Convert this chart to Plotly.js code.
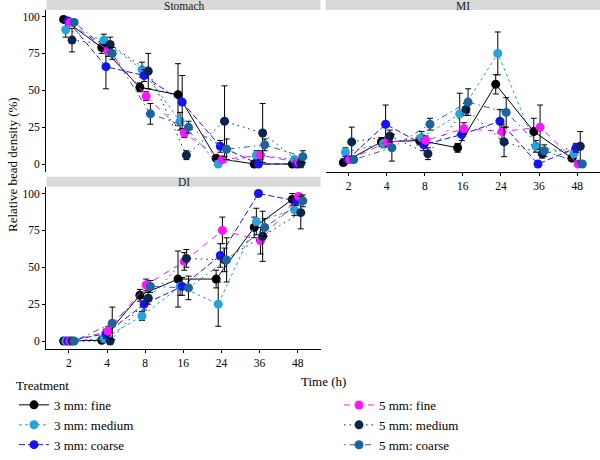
<!DOCTYPE html>
<html>
<head>
<meta charset="utf-8">
<script src="https://cdn.plot.ly/plotly-3.0.1.min.js"></script>
<style>html,body{margin:0;padding:0;background:#fff;overflow:hidden}#chart{width:600px;height:460px}</style>
</head>
<body>
<div id="chart"></div>
<script>
// ---- data ----
const timeLabels = ['2', '4', '8', '16', '24', '36', '48'];
const treatments = ['3 mm: fine', '3 mm: medium', '3 mm: coarse', '5 mm: fine', '5 mm: medium', '5 mm: coarse'];
const panels = ['Stomach', 'MI', 'DI'];

// Stomach
const stomach3Fine   = [98, 79, 52, 47, 4, 0, 0];
const stomach3Medium = [91, 84, 64, 29, 0, 6, 3];
const stomach3Coarse = [97, 66, 60, 42, 12, 0, 0];
const stomach5Fine   = [96, 77, 46, 21, 3, 6, 1];
const stomach5Medium = [84, 81, 63, 6, 29, 21, 0.5];
const stomach5Coarse = [96, 75, 34, 25, 10, 13, 5];
const stomach3FineErr   = [1, 4, 3, 21, 2, 0, 0];
const stomach3MediumErr = [5, 4, 5, 6, 1, 3, 2];
const stomach3CoarseErr = [2, 15, 4, 18, 4, 0, 0];
const stomach5FineErr   = [2, 4, 3, 3, 2, 3, 1];
const stomach5MediumErr = [8, 5, 12, 3, 24, 20, 3];
const stomach5CoarseErr = [2, 4, 7, 4, 7, 4, 4];

// MI
const mi3Fine   = [1, 15, 16, 11, 54, 22, 4];
const mi3Medium = [8, 14, 18, 34, 75, 12, 7];
const mi3Coarse = [3, 27, 13, 20, 29, 0, 11];
const mi5Fine   = [3, 15, 16, 24, 22, 25, 0];
const mi5Medium = [15, 19, 7, 37, 15, 7, 12];
const mi5Coarse = [3, 11, 27, 42, 35, 9, 0];
const mi3FineErr   = [1, 3, 3, 3, 6.5, 9, 2];
const mi3MediumErr = [3, 3, 4, 14, 14.5, 4, 3];
const mi3CoarseErr = [2, 13, 4, 4, 8, 2, 3];
const mi5FineErr   = [2, 3, 3, 4, 5, 15, 1];
const mi5MediumErr = [10, 4, 4, 4, 10, 3, 10];
const mi5CoarseErr = [2, 9, 4, 9, 10, 4, 1];

// DI
const di3Fine   = [0, 0.5, 31, 42, 42, 77, 96];
const di3Medium = [0, 1.6, 17, 37, 25, 81, 89];
const di3Coarse = [0, 5, 25, 37, 58, 100, 95];
const di5Fine   = [0, 6.6, 38, 54, 75, 68, 98];
const di5Medium = [0, 0, 29, 56, 55, 71, 87];
const di5Coarse = [0, 12, 37, 36, 55, 77, 95];
const di3FineErr   = [0, 1, 4, 19, 6, 7, 4];
const di3MediumErr = [0, 2, 3, 6, 15, 9, 4];
const di3CoarseErr = [0, 3, 4, 6, 8, 0, 3];
const di5FineErr   = [0, 3, 4, 6, 9, 9, 2];
const di5MediumErr = [0, 1, 4, 6, 8, 17, 11];
const di5CoarseErr = [0, 11, 4, 8, 15, 6, 4];

// ---- styles ----
const colors = ['#000000', '#27a3dc', '#1414f0', '#ff14ff', '#0b2450', '#1d63a0'];
const dashes = ['solid', '3px,3px', '6px,3px', '6px,6px', '1.5px,4px', '1.5px,4px,6px,4px'];
const FONT = "'Liberation Serif', 'Times New Roman', Times, 'DejaVu Serif', serif";

const panelData = {
  Stomach: [[stomach3Fine, stomach3FineErr], [stomach3Medium, stomach3MediumErr], [stomach3Coarse, stomach3CoarseErr],
            [stomach5Fine, stomach5FineErr], [stomach5Medium, stomach5MediumErr], [stomach5Coarse, stomach5CoarseErr]],
  MI: [[mi3Fine, mi3FineErr], [mi3Medium, mi3MediumErr], [mi3Coarse, mi3CoarseErr],
       [mi5Fine, mi5FineErr], [mi5Medium, mi5MediumErr], [mi5Coarse, mi5CoarseErr]],
  DI: [[di3Fine, di3FineErr], [di3Medium, di3MediumErr], [di3Coarse, di3CoarseErr],
       [di5Fine, di5FineErr], [di5Medium, di5MediumErr], [di5Coarse, di5CoarseErr]]
};
const axisIds = {Stomach: ['x', 'y'], MI: ['x3', 'y3'], DI: ['x2', 'y2']};

const dodgeStep = 0.055;
const traces = [];
panels.forEach(function (p) {
  panelData[p].forEach(function (pair, i) {
    const xs = timeLabels.map(function (_, k) { return k + (i - 2.5) * dodgeStep; });
    traces.push({
      type: 'scatter', mode: 'lines+markers',
      x: xs, y: pair[0],
      xaxis: axisIds[p][0], yaxis: axisIds[p][1],
      name: treatments[i],
      legend: i < 3 ? 'legend' : 'legend2',
      showlegend: p === 'Stomach',
      line: {color: colors[i], width: 1, dash: dashes[i]},
      marker: {color: colors[i], size: 9},
      error_y: {type: 'data', array: pair[1], visible: true, color: '#000', thickness: 1, width: 3},
      hoverinfo: 'skip'
    });
  });
});

const W = 600, H = 460;
const px = function (v) { return v / W; };
const py = function (v) { return 1 - v / H; };

const yRange = [-5.4, 104.4];
const xRange = [-0.6, 6.6];
const tickFont = {family: FONT, size: 11.5, color: '#000'};
const lblFont = {family: FONT, size: 13, color: '#000'};
const stripFont = {family: FONT, size: 11.5, color: '#1a1a1a'};

const baseX = {
  range: xRange, tickvals: [0, 1, 2, 3, 4, 5, 6], ticktext: timeLabels,
  showgrid: false, zeroline: false, tickfont: tickFont, fixedrange: true
};
const baseY = {
  range: yRange, tickvals: [0, 25, 50, 75, 100],
  showgrid: false, zeroline: false, tickfont: tickFont, fixedrange: true
};
const axLine = {showline: true, linecolor: '#000', linewidth: 1, ticks: 'outside', ticklen: 3, tickcolor: '#000'};

const layout = {
  width: W, height: H,
  margin: {l: 0, r: 0, t: 0, b: 0},
  paper_bgcolor: '#fff', plot_bgcolor: 'rgba(0,0,0,0)',
  font: {family: FONT, size: 12, color: '#000'},
  showlegend: true,
  xaxis: Object.assign({}, baseX, {domain: [px(46), px(320.5)], anchor: 'y', showticklabels: false, ticks: '', showline: false}),
  yaxis: Object.assign({}, baseY, axLine, {domain: [py(172), py(10)], anchor: 'x'}),
  xaxis2: Object.assign({}, baseX, axLine, {domain: [px(46), px(320.5)], anchor: 'y2'}),
  yaxis2: Object.assign({}, baseY, axLine, {domain: [py(349), py(187)], anchor: 'x2'}),
  xaxis3: Object.assign({}, baseX, axLine, {domain: [px(325.7), 1], anchor: 'y3'}),
  yaxis3: Object.assign({}, baseY, {domain: [py(172), py(10)], anchor: 'x3', showticklabels: false, ticks: '', showline: false}),
  shapes: [
    {type: 'rect', xref: 'paper', yref: 'paper', x0: px(46.5), x1: px(320.5), y0: py(10), y1: 1, fillcolor: '#d9d9d9', line: {width: 0}, layer: 'below'},
    {type: 'rect', xref: 'paper', yref: 'paper', x0: px(325.7), x1: 1, y0: py(10), y1: 1, fillcolor: '#d9d9d9', line: {width: 0}, layer: 'below'},
    {type: 'rect', xref: 'paper', yref: 'paper', x0: px(46.5), x1: px(320.5), y0: py(186.7), y1: py(176.7), fillcolor: '#d9d9d9', line: {width: 0}, layer: 'below'}
  ],
  annotations: [
    {text: panels[0], xref: 'paper', yref: 'paper', x: px(183.5), y: py(6), xanchor: 'center', yanchor: 'middle', showarrow: false, font: stripFont},
    {text: panels[1], xref: 'paper', yref: 'paper', x: px(462.8), y: py(6), xanchor: 'center', yanchor: 'middle', showarrow: false, font: stripFont},
    {text: panels[2], xref: 'paper', yref: 'paper', x: px(183.5), y: py(182), xanchor: 'center', yanchor: 'middle', showarrow: false, font: stripFont},
    {text: 'Time (h)', xref: 'paper', yref: 'paper', x: px(323), y: py(381), xanchor: 'center', yanchor: 'middle', showarrow: false, font: lblFont},
    {text: 'Relative bead density (%)', xref: 'paper', yref: 'paper', x: px(12), y: py(165), xanchor: 'center', yanchor: 'middle', textangle: -90, showarrow: false, font: lblFont}
  ],
  legend: {
    x: px(14), y: 0, xanchor: 'left', yanchor: 'bottom', orientation: 'v',
    title: {text: 'Treatment', font: lblFont},
    font: lblFont, bgcolor: 'rgba(0,0,0,0)', tracegroupgap: 0, itemwidth: 30
  },
  legend2: {
    x: px(339), y: 0, xanchor: 'left', yanchor: 'bottom', orientation: 'v',
    font: lblFont, bgcolor: 'rgba(0,0,0,0)', tracegroupgap: 0, itemwidth: 30
  }
};

Plotly.newPlot('chart', traces, layout, {displayModeBar: false, staticPlot: true});
</script>
</body>
</html>
